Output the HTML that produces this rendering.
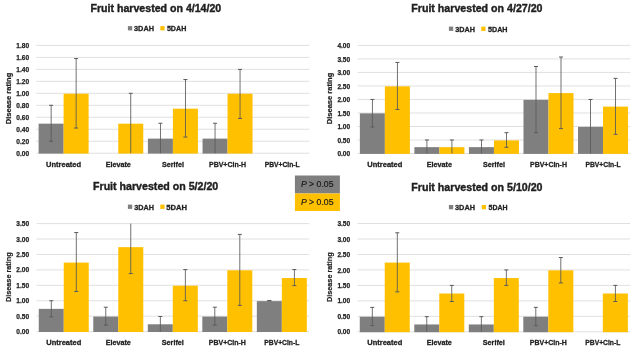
<!DOCTYPE html><html><head><meta charset="utf-8"><style>html,body{margin:0;padding:0;background:#fff;width:640px;height:355px;overflow:hidden}svg{display:block;filter:blur(0.35px)}text{font-family:"Liberation Sans",sans-serif}</style></head><body>
<svg width="640" height="355" viewBox="0 0 640 355">
<rect x="0" y="0" width="640" height="355" fill="#fff"/>
<rect x="36.30" y="152.70" width="273.20" height="1" fill="#e0e0e0"/>
<text x="29.10" y="155.80" font-size="7.2" font-weight="bold" fill="#222222" stroke="#222222" stroke-width="0.25" text-anchor="end" textLength="12.8" lengthAdjust="spacingAndGlyphs">0.00</text>
<rect x="36.30" y="140.72" width="273.20" height="1" fill="#e0e0e0"/>
<text x="29.10" y="143.82" font-size="7.2" font-weight="bold" fill="#222222" stroke="#222222" stroke-width="0.25" text-anchor="end" textLength="12.8" lengthAdjust="spacingAndGlyphs">0.20</text>
<rect x="36.30" y="128.74" width="273.20" height="1" fill="#e0e0e0"/>
<text x="29.10" y="131.84" font-size="7.2" font-weight="bold" fill="#222222" stroke="#222222" stroke-width="0.25" text-anchor="end" textLength="12.8" lengthAdjust="spacingAndGlyphs">0.40</text>
<rect x="36.30" y="116.77" width="273.20" height="1" fill="#e0e0e0"/>
<text x="29.10" y="119.87" font-size="7.2" font-weight="bold" fill="#222222" stroke="#222222" stroke-width="0.25" text-anchor="end" textLength="12.8" lengthAdjust="spacingAndGlyphs">0.60</text>
<rect x="36.30" y="104.79" width="273.20" height="1" fill="#e0e0e0"/>
<text x="29.10" y="107.89" font-size="7.2" font-weight="bold" fill="#222222" stroke="#222222" stroke-width="0.25" text-anchor="end" textLength="12.8" lengthAdjust="spacingAndGlyphs">0.80</text>
<rect x="36.30" y="92.81" width="273.20" height="1" fill="#e0e0e0"/>
<text x="29.10" y="95.91" font-size="7.2" font-weight="bold" fill="#222222" stroke="#222222" stroke-width="0.25" text-anchor="end" textLength="12.8" lengthAdjust="spacingAndGlyphs">1.00</text>
<rect x="36.30" y="80.83" width="273.20" height="1" fill="#e0e0e0"/>
<text x="29.10" y="83.93" font-size="7.2" font-weight="bold" fill="#222222" stroke="#222222" stroke-width="0.25" text-anchor="end" textLength="12.8" lengthAdjust="spacingAndGlyphs">1.20</text>
<rect x="36.30" y="68.86" width="273.20" height="1" fill="#e0e0e0"/>
<text x="29.10" y="71.96" font-size="7.2" font-weight="bold" fill="#222222" stroke="#222222" stroke-width="0.25" text-anchor="end" textLength="12.8" lengthAdjust="spacingAndGlyphs">1.40</text>
<rect x="36.30" y="56.88" width="273.20" height="1" fill="#e0e0e0"/>
<text x="29.10" y="59.98" font-size="7.2" font-weight="bold" fill="#222222" stroke="#222222" stroke-width="0.25" text-anchor="end" textLength="12.8" lengthAdjust="spacingAndGlyphs">1.60</text>
<rect x="36.30" y="44.90" width="273.20" height="1" fill="#e0e0e0"/>
<text x="29.10" y="48.00" font-size="7.2" font-weight="bold" fill="#222222" stroke="#222222" stroke-width="0.25" text-anchor="end" textLength="12.8" lengthAdjust="spacingAndGlyphs">1.80</text>
<rect x="38.62" y="123.66" width="25" height="29.94" fill="#7f7f7f"/>
<rect x="63.62" y="93.71" width="25" height="59.89" fill="#ffc000"/>
<rect x="50.70" y="105.29" width="0.85" height="35.93" fill="#5a5a5a"/>
<rect x="49.12" y="104.79" width="4" height="1" fill="#5a5a5a"/>
<rect x="49.12" y="140.72" width="4" height="1" fill="#5a5a5a"/>
<rect x="75.70" y="58.58" width="0.85" height="69.47" fill="#5a5a5a"/>
<rect x="74.12" y="58.08" width="4" height="1" fill="#5a5a5a"/>
<rect x="74.12" y="127.55" width="4" height="1" fill="#5a5a5a"/>
<text x="63.62" y="167.00" font-size="7.8" font-weight="bold" fill="#222222" stroke="#222222" stroke-width="0.3" text-anchor="middle" textLength="35.0" lengthAdjust="spacingAndGlyphs">Untreated</text>
<rect x="118.26" y="123.66" width="25" height="29.94" fill="#ffc000"/>
<rect x="130.34" y="93.31" width="0.85" height="59.89" fill="#5a5a5a"/>
<rect x="128.76" y="92.81" width="4" height="1" fill="#5a5a5a"/>
<text x="118.26" y="167.00" font-size="7.8" font-weight="bold" fill="#222222" stroke="#222222" stroke-width="0.3" text-anchor="middle" textLength="25.2" lengthAdjust="spacingAndGlyphs">Elevate</text>
<rect x="147.90" y="138.63" width="25" height="14.97" fill="#7f7f7f"/>
<rect x="172.90" y="108.68" width="25" height="44.92" fill="#ffc000"/>
<rect x="159.98" y="123.26" width="0.85" height="29.94" fill="#5a5a5a"/>
<rect x="158.40" y="122.76" width="4" height="1" fill="#5a5a5a"/>
<rect x="184.98" y="79.54" width="0.85" height="57.49" fill="#5a5a5a"/>
<rect x="183.40" y="79.04" width="4" height="1" fill="#5a5a5a"/>
<rect x="183.40" y="136.53" width="4" height="1" fill="#5a5a5a"/>
<text x="172.90" y="167.00" font-size="7.8" font-weight="bold" fill="#222222" stroke="#222222" stroke-width="0.3" text-anchor="middle" textLength="22.0" lengthAdjust="spacingAndGlyphs">Serifel</text>
<rect x="202.54" y="138.63" width="25" height="14.97" fill="#7f7f7f"/>
<rect x="227.54" y="93.71" width="25" height="59.89" fill="#ffc000"/>
<rect x="214.62" y="123.26" width="0.85" height="29.94" fill="#5a5a5a"/>
<rect x="213.04" y="122.76" width="4" height="1" fill="#5a5a5a"/>
<rect x="239.62" y="69.36" width="0.85" height="49.11" fill="#5a5a5a"/>
<rect x="238.04" y="68.86" width="4" height="1" fill="#5a5a5a"/>
<rect x="238.04" y="117.96" width="4" height="1" fill="#5a5a5a"/>
<text x="227.54" y="167.00" font-size="7.8" font-weight="bold" fill="#222222" stroke="#222222" stroke-width="0.3" text-anchor="middle" textLength="37.0" lengthAdjust="spacingAndGlyphs">PBV+Cin-H</text>
<text x="282.18" y="167.00" font-size="7.8" font-weight="bold" fill="#222222" stroke="#222222" stroke-width="0.3" text-anchor="middle" textLength="35.0" lengthAdjust="spacingAndGlyphs">PBV+Cin-L</text>
<text x="90.50" y="12.00" font-size="11.0" font-weight="bold" fill="#1f1f1f" stroke="#1f1f1f" stroke-width="0.4" textLength="130.75" lengthAdjust="spacingAndGlyphs">Fruit harvested on 4/14/20</text>
<rect x="127.90" y="26.10" width="4.3" height="4.3" fill="#7f7f7f"/>
<text x="134.00" y="31.10" font-size="7.9" font-weight="bold" fill="#222222" stroke="#222222" stroke-width="0.3" textLength="20.00" lengthAdjust="spacingAndGlyphs">3DAH</text>
<rect x="160.30" y="26.10" width="4.3" height="4.3" fill="#ffc000"/>
<text x="166.90" y="31.10" font-size="7.9" font-weight="bold" fill="#222222" stroke="#222222" stroke-width="0.3" textLength="19.40" lengthAdjust="spacingAndGlyphs">5DAH</text>
<text x="8.80" y="98.50" transform="rotate(-90 8.80 98.50)" font-size="7.6" font-weight="bold" fill="#1f1f1f" stroke="#1f1f1f" stroke-width="0.2" text-anchor="middle" dominant-baseline="central" textLength="51.5" lengthAdjust="spacingAndGlyphs">Disease rating</text>
<rect x="357.60" y="153.00" width="272.70" height="1" fill="#e0e0e0"/>
<text x="350.20" y="156.10" font-size="7.2" font-weight="bold" fill="#222222" stroke="#222222" stroke-width="0.25" text-anchor="end" textLength="12.8" lengthAdjust="spacingAndGlyphs">0.00</text>
<rect x="357.60" y="139.49" width="272.70" height="1" fill="#e0e0e0"/>
<text x="350.20" y="142.59" font-size="7.2" font-weight="bold" fill="#222222" stroke="#222222" stroke-width="0.25" text-anchor="end" textLength="12.8" lengthAdjust="spacingAndGlyphs">0.50</text>
<rect x="357.60" y="125.97" width="272.70" height="1" fill="#e0e0e0"/>
<text x="350.20" y="129.07" font-size="7.2" font-weight="bold" fill="#222222" stroke="#222222" stroke-width="0.25" text-anchor="end" textLength="12.8" lengthAdjust="spacingAndGlyphs">1.00</text>
<rect x="357.60" y="112.46" width="272.70" height="1" fill="#e0e0e0"/>
<text x="350.20" y="115.56" font-size="7.2" font-weight="bold" fill="#222222" stroke="#222222" stroke-width="0.25" text-anchor="end" textLength="12.8" lengthAdjust="spacingAndGlyphs">1.50</text>
<rect x="357.60" y="98.95" width="272.70" height="1" fill="#e0e0e0"/>
<text x="350.20" y="102.05" font-size="7.2" font-weight="bold" fill="#222222" stroke="#222222" stroke-width="0.25" text-anchor="end" textLength="12.8" lengthAdjust="spacingAndGlyphs">2.00</text>
<rect x="357.60" y="85.44" width="272.70" height="1" fill="#e0e0e0"/>
<text x="350.20" y="88.54" font-size="7.2" font-weight="bold" fill="#222222" stroke="#222222" stroke-width="0.25" text-anchor="end" textLength="12.8" lengthAdjust="spacingAndGlyphs">2.50</text>
<rect x="357.60" y="71.93" width="272.70" height="1" fill="#e0e0e0"/>
<text x="350.20" y="75.03" font-size="7.2" font-weight="bold" fill="#222222" stroke="#222222" stroke-width="0.25" text-anchor="end" textLength="12.8" lengthAdjust="spacingAndGlyphs">3.00</text>
<rect x="357.60" y="58.41" width="272.70" height="1" fill="#e0e0e0"/>
<text x="350.20" y="61.51" font-size="7.2" font-weight="bold" fill="#222222" stroke="#222222" stroke-width="0.25" text-anchor="end" textLength="12.8" lengthAdjust="spacingAndGlyphs">3.50</text>
<rect x="357.60" y="44.90" width="272.70" height="1" fill="#e0e0e0"/>
<text x="350.20" y="48.00" font-size="7.2" font-weight="bold" fill="#222222" stroke="#222222" stroke-width="0.25" text-anchor="end" textLength="12.8" lengthAdjust="spacingAndGlyphs">4.00</text>
<rect x="359.87" y="113.36" width="25" height="40.54" fill="#7f7f7f"/>
<rect x="384.87" y="86.34" width="25" height="67.56" fill="#ffc000"/>
<rect x="371.95" y="99.45" width="0.85" height="27.57" fill="#5a5a5a"/>
<rect x="370.37" y="98.95" width="4" height="1" fill="#5a5a5a"/>
<rect x="370.37" y="126.52" width="4" height="1" fill="#5a5a5a"/>
<rect x="396.95" y="62.43" width="0.85" height="47.02" fill="#5a5a5a"/>
<rect x="395.37" y="61.93" width="4" height="1" fill="#5a5a5a"/>
<rect x="395.37" y="108.95" width="4" height="1" fill="#5a5a5a"/>
<text x="384.87" y="167.00" font-size="7.8" font-weight="bold" fill="#222222" stroke="#222222" stroke-width="0.3" text-anchor="middle" textLength="35.0" lengthAdjust="spacingAndGlyphs">Untreated</text>
<rect x="414.41" y="147.14" width="25" height="6.76" fill="#7f7f7f"/>
<rect x="439.41" y="147.14" width="25" height="6.76" fill="#ffc000"/>
<rect x="426.49" y="139.99" width="0.85" height="13.51" fill="#5a5a5a"/>
<rect x="424.91" y="139.49" width="4" height="1" fill="#5a5a5a"/>
<rect x="451.49" y="139.99" width="0.85" height="13.51" fill="#5a5a5a"/>
<rect x="449.91" y="139.49" width="4" height="1" fill="#5a5a5a"/>
<text x="439.41" y="167.00" font-size="7.8" font-weight="bold" fill="#222222" stroke="#222222" stroke-width="0.3" text-anchor="middle" textLength="25.2" lengthAdjust="spacingAndGlyphs">Elevate</text>
<rect x="468.95" y="147.14" width="25" height="6.76" fill="#7f7f7f"/>
<rect x="493.95" y="140.39" width="25" height="13.51" fill="#ffc000"/>
<rect x="481.03" y="139.99" width="0.85" height="13.51" fill="#5a5a5a"/>
<rect x="479.45" y="139.49" width="4" height="1" fill="#5a5a5a"/>
<rect x="506.03" y="132.69" width="0.85" height="14.59" fill="#5a5a5a"/>
<rect x="504.45" y="132.19" width="4" height="1" fill="#5a5a5a"/>
<rect x="504.45" y="146.78" width="4" height="1" fill="#5a5a5a"/>
<text x="493.95" y="167.00" font-size="7.8" font-weight="bold" fill="#222222" stroke="#222222" stroke-width="0.3" text-anchor="middle" textLength="22.0" lengthAdjust="spacingAndGlyphs">Serifel</text>
<rect x="523.49" y="99.85" width="25" height="54.05" fill="#7f7f7f"/>
<rect x="548.49" y="93.09" width="25" height="60.81" fill="#ffc000"/>
<rect x="535.57" y="66.48" width="0.85" height="66.21" fill="#5a5a5a"/>
<rect x="533.99" y="65.98" width="4" height="1" fill="#5a5a5a"/>
<rect x="533.99" y="132.19" width="4" height="1" fill="#5a5a5a"/>
<rect x="560.57" y="57.02" width="0.85" height="71.62" fill="#5a5a5a"/>
<rect x="558.99" y="56.52" width="4" height="1" fill="#5a5a5a"/>
<rect x="558.99" y="128.14" width="4" height="1" fill="#5a5a5a"/>
<text x="548.49" y="167.00" font-size="7.8" font-weight="bold" fill="#222222" stroke="#222222" stroke-width="0.3" text-anchor="middle" textLength="37.0" lengthAdjust="spacingAndGlyphs">PBV+Cin-H</text>
<rect x="578.03" y="126.88" width="25" height="27.03" fill="#7f7f7f"/>
<rect x="603.03" y="106.61" width="25" height="47.29" fill="#ffc000"/>
<rect x="590.11" y="99.45" width="0.85" height="54.05" fill="#5a5a5a"/>
<rect x="588.53" y="98.95" width="4" height="1" fill="#5a5a5a"/>
<rect x="615.11" y="78.37" width="0.85" height="55.94" fill="#5a5a5a"/>
<rect x="613.53" y="77.87" width="4" height="1" fill="#5a5a5a"/>
<rect x="613.53" y="133.81" width="4" height="1" fill="#5a5a5a"/>
<text x="603.03" y="167.00" font-size="7.8" font-weight="bold" fill="#222222" stroke="#222222" stroke-width="0.3" text-anchor="middle" textLength="35.0" lengthAdjust="spacingAndGlyphs">PBV+Cin-L</text>
<text x="411.25" y="12.00" font-size="11.0" font-weight="bold" fill="#1f1f1f" stroke="#1f1f1f" stroke-width="0.4" textLength="131.25" lengthAdjust="spacingAndGlyphs">Fruit harvested on 4/27/20</text>
<rect x="448.90" y="26.60" width="4.3" height="4.3" fill="#7f7f7f"/>
<text x="455.30" y="31.60" font-size="7.9" font-weight="bold" fill="#222222" stroke="#222222" stroke-width="0.3" textLength="19.70" lengthAdjust="spacingAndGlyphs">3DAH</text>
<rect x="481.20" y="26.60" width="4.3" height="4.3" fill="#ffc000"/>
<text x="488.00" y="31.60" font-size="7.9" font-weight="bold" fill="#222222" stroke="#222222" stroke-width="0.3" textLength="19.50" lengthAdjust="spacingAndGlyphs">5DAH</text>
<text x="329.80" y="98.50" transform="rotate(-90 329.80 98.50)" font-size="7.6" font-weight="bold" fill="#1f1f1f" stroke="#1f1f1f" stroke-width="0.2" text-anchor="middle" dominant-baseline="central" textLength="51.5" lengthAdjust="spacingAndGlyphs">Disease rating</text>
<rect x="36.50" y="331.10" width="272.60" height="1" fill="#e0e0e0"/>
<text x="29.10" y="334.20" font-size="7.2" font-weight="bold" fill="#222222" stroke="#222222" stroke-width="0.25" text-anchor="end" textLength="12.8" lengthAdjust="spacingAndGlyphs">0.00</text>
<rect x="36.50" y="315.67" width="272.60" height="1" fill="#e0e0e0"/>
<text x="29.10" y="318.77" font-size="7.2" font-weight="bold" fill="#222222" stroke="#222222" stroke-width="0.25" text-anchor="end" textLength="12.8" lengthAdjust="spacingAndGlyphs">0.50</text>
<rect x="36.50" y="300.24" width="272.60" height="1" fill="#e0e0e0"/>
<text x="29.10" y="303.34" font-size="7.2" font-weight="bold" fill="#222222" stroke="#222222" stroke-width="0.25" text-anchor="end" textLength="12.8" lengthAdjust="spacingAndGlyphs">1.00</text>
<rect x="36.50" y="284.81" width="272.60" height="1" fill="#e0e0e0"/>
<text x="29.10" y="287.91" font-size="7.2" font-weight="bold" fill="#222222" stroke="#222222" stroke-width="0.25" text-anchor="end" textLength="12.8" lengthAdjust="spacingAndGlyphs">1.50</text>
<rect x="36.50" y="269.39" width="272.60" height="1" fill="#e0e0e0"/>
<text x="29.10" y="272.49" font-size="7.2" font-weight="bold" fill="#222222" stroke="#222222" stroke-width="0.25" text-anchor="end" textLength="12.8" lengthAdjust="spacingAndGlyphs">2.00</text>
<rect x="36.50" y="253.96" width="272.60" height="1" fill="#e0e0e0"/>
<text x="29.10" y="257.06" font-size="7.2" font-weight="bold" fill="#222222" stroke="#222222" stroke-width="0.25" text-anchor="end" textLength="12.8" lengthAdjust="spacingAndGlyphs">2.50</text>
<rect x="36.50" y="238.53" width="272.60" height="1" fill="#e0e0e0"/>
<text x="29.10" y="241.63" font-size="7.2" font-weight="bold" fill="#222222" stroke="#222222" stroke-width="0.25" text-anchor="end" textLength="12.8" lengthAdjust="spacingAndGlyphs">3.00</text>
<rect x="36.50" y="223.10" width="272.60" height="1" fill="#e0e0e0"/>
<text x="29.10" y="226.20" font-size="7.2" font-weight="bold" fill="#222222" stroke="#222222" stroke-width="0.25" text-anchor="end" textLength="12.8" lengthAdjust="spacingAndGlyphs">3.50</text>
<rect x="38.76" y="308.86" width="25" height="23.14" fill="#7f7f7f"/>
<rect x="63.76" y="262.57" width="25" height="69.43" fill="#ffc000"/>
<rect x="50.84" y="300.74" width="0.85" height="16.05" fill="#5a5a5a"/>
<rect x="49.26" y="300.24" width="4" height="1" fill="#5a5a5a"/>
<rect x="49.26" y="316.29" width="4" height="1" fill="#5a5a5a"/>
<rect x="75.84" y="232.55" width="0.85" height="58.94" fill="#5a5a5a"/>
<rect x="74.26" y="232.05" width="4" height="1" fill="#5a5a5a"/>
<rect x="74.26" y="290.99" width="4" height="1" fill="#5a5a5a"/>
<text x="63.76" y="345.20" font-size="7.8" font-weight="bold" fill="#222222" stroke="#222222" stroke-width="0.3" text-anchor="middle" textLength="35.0" lengthAdjust="spacingAndGlyphs">Untreated</text>
<rect x="93.28" y="316.57" width="25" height="15.43" fill="#7f7f7f"/>
<rect x="118.28" y="247.14" width="25" height="84.86" fill="#ffc000"/>
<rect x="105.36" y="307.22" width="0.85" height="17.90" fill="#5a5a5a"/>
<rect x="103.78" y="306.72" width="4" height="1" fill="#5a5a5a"/>
<rect x="103.78" y="324.62" width="4" height="1" fill="#5a5a5a"/>
<rect x="130.36" y="223.60" width="0.85" height="49.99" fill="#5a5a5a"/>
<rect x="128.78" y="273.09" width="4" height="1" fill="#5a5a5a"/>
<text x="118.28" y="345.20" font-size="7.8" font-weight="bold" fill="#222222" stroke="#222222" stroke-width="0.3" text-anchor="middle" textLength="25.2" lengthAdjust="spacingAndGlyphs">Elevate</text>
<rect x="147.80" y="324.29" width="25" height="7.71" fill="#7f7f7f"/>
<rect x="172.80" y="285.71" width="25" height="46.29" fill="#ffc000"/>
<rect x="159.88" y="316.48" width="0.85" height="15.12" fill="#5a5a5a"/>
<rect x="158.30" y="315.98" width="4" height="1" fill="#5a5a5a"/>
<rect x="184.88" y="269.58" width="0.85" height="31.17" fill="#5a5a5a"/>
<rect x="183.30" y="269.08" width="4" height="1" fill="#5a5a5a"/>
<rect x="183.30" y="300.24" width="4" height="1" fill="#5a5a5a"/>
<text x="172.80" y="345.20" font-size="7.8" font-weight="bold" fill="#222222" stroke="#222222" stroke-width="0.3" text-anchor="middle" textLength="22.0" lengthAdjust="spacingAndGlyphs">Serifel</text>
<rect x="202.32" y="316.57" width="25" height="15.43" fill="#7f7f7f"/>
<rect x="227.32" y="270.29" width="25" height="61.71" fill="#ffc000"/>
<rect x="214.40" y="307.22" width="0.85" height="17.90" fill="#5a5a5a"/>
<rect x="212.82" y="306.72" width="4" height="1" fill="#5a5a5a"/>
<rect x="212.82" y="324.62" width="4" height="1" fill="#5a5a5a"/>
<rect x="239.40" y="234.40" width="0.85" height="70.97" fill="#5a5a5a"/>
<rect x="237.82" y="233.90" width="4" height="1" fill="#5a5a5a"/>
<rect x="237.82" y="304.87" width="4" height="1" fill="#5a5a5a"/>
<text x="227.32" y="345.20" font-size="7.8" font-weight="bold" fill="#222222" stroke="#222222" stroke-width="0.3" text-anchor="middle" textLength="37.0" lengthAdjust="spacingAndGlyphs">PBV+Cin-H</text>
<rect x="256.84" y="301.14" width="25" height="30.86" fill="#7f7f7f"/>
<rect x="281.84" y="278.00" width="25" height="54.00" fill="#ffc000"/>
<rect x="268.92" y="300.74" width="0.85" height="0.00" fill="#5a5a5a"/>
<rect x="267.34" y="300.24" width="4" height="1" fill="#5a5a5a"/>
<rect x="267.34" y="300.24" width="4" height="1" fill="#5a5a5a"/>
<rect x="293.92" y="269.58" width="0.85" height="16.05" fill="#5a5a5a"/>
<rect x="292.34" y="269.08" width="4" height="1" fill="#5a5a5a"/>
<rect x="292.34" y="285.12" width="4" height="1" fill="#5a5a5a"/>
<text x="281.84" y="345.20" font-size="7.8" font-weight="bold" fill="#222222" stroke="#222222" stroke-width="0.3" text-anchor="middle" textLength="35.0" lengthAdjust="spacingAndGlyphs">PBV+Cin-L</text>
<text x="93.00" y="190.30" font-size="11.0" font-weight="bold" fill="#1f1f1f" stroke="#1f1f1f" stroke-width="0.4" textLength="125.25" lengthAdjust="spacingAndGlyphs">Fruit harvested on 5/2/20</text>
<rect x="127.90" y="204.60" width="4.3" height="4.3" fill="#7f7f7f"/>
<text x="134.20" y="209.60" font-size="7.9" font-weight="bold" fill="#222222" stroke="#222222" stroke-width="0.3" textLength="19.70" lengthAdjust="spacingAndGlyphs">3DAH</text>
<rect x="160.30" y="204.60" width="4.3" height="4.3" fill="#ffc000"/>
<text x="166.30" y="209.60" font-size="7.9" font-weight="bold" fill="#222222" stroke="#222222" stroke-width="0.3" textLength="20.70" lengthAdjust="spacingAndGlyphs">5DAH</text>
<text x="8.80" y="277.20" transform="rotate(-90 8.80 277.20)" font-size="7.6" font-weight="bold" fill="#1f1f1f" stroke="#1f1f1f" stroke-width="0.2" text-anchor="middle" dominant-baseline="central" textLength="49.8" lengthAdjust="spacingAndGlyphs">Disease rating</text>
<rect x="357.50" y="331.30" width="272.60" height="1" fill="#e0e0e0"/>
<text x="350.20" y="334.40" font-size="7.2" font-weight="bold" fill="#222222" stroke="#222222" stroke-width="0.25" text-anchor="end" textLength="12.8" lengthAdjust="spacingAndGlyphs">0.00</text>
<rect x="357.50" y="315.83" width="272.60" height="1" fill="#e0e0e0"/>
<text x="350.20" y="318.93" font-size="7.2" font-weight="bold" fill="#222222" stroke="#222222" stroke-width="0.25" text-anchor="end" textLength="12.8" lengthAdjust="spacingAndGlyphs">0.50</text>
<rect x="357.50" y="300.36" width="272.60" height="1" fill="#e0e0e0"/>
<text x="350.20" y="303.46" font-size="7.2" font-weight="bold" fill="#222222" stroke="#222222" stroke-width="0.25" text-anchor="end" textLength="12.8" lengthAdjust="spacingAndGlyphs">1.00</text>
<rect x="357.50" y="284.89" width="272.60" height="1" fill="#e0e0e0"/>
<text x="350.20" y="287.99" font-size="7.2" font-weight="bold" fill="#222222" stroke="#222222" stroke-width="0.25" text-anchor="end" textLength="12.8" lengthAdjust="spacingAndGlyphs">1.50</text>
<rect x="357.50" y="269.41" width="272.60" height="1" fill="#e0e0e0"/>
<text x="350.20" y="272.51" font-size="7.2" font-weight="bold" fill="#222222" stroke="#222222" stroke-width="0.25" text-anchor="end" textLength="12.8" lengthAdjust="spacingAndGlyphs">2.00</text>
<rect x="357.50" y="253.94" width="272.60" height="1" fill="#e0e0e0"/>
<text x="350.20" y="257.04" font-size="7.2" font-weight="bold" fill="#222222" stroke="#222222" stroke-width="0.25" text-anchor="end" textLength="12.8" lengthAdjust="spacingAndGlyphs">2.50</text>
<rect x="357.50" y="238.47" width="272.60" height="1" fill="#e0e0e0"/>
<text x="350.20" y="241.57" font-size="7.2" font-weight="bold" fill="#222222" stroke="#222222" stroke-width="0.25" text-anchor="end" textLength="12.8" lengthAdjust="spacingAndGlyphs">3.00</text>
<rect x="357.50" y="223.00" width="272.60" height="1" fill="#e0e0e0"/>
<text x="350.20" y="226.10" font-size="7.2" font-weight="bold" fill="#222222" stroke="#222222" stroke-width="0.25" text-anchor="end" textLength="12.8" lengthAdjust="spacingAndGlyphs">3.50</text>
<rect x="359.76" y="316.73" width="25" height="15.47" fill="#7f7f7f"/>
<rect x="384.76" y="262.58" width="25" height="69.62" fill="#ffc000"/>
<rect x="371.84" y="307.36" width="0.85" height="18.26" fill="#5a5a5a"/>
<rect x="370.26" y="306.86" width="4" height="1" fill="#5a5a5a"/>
<rect x="370.26" y="325.11" width="4" height="1" fill="#5a5a5a"/>
<rect x="396.84" y="232.78" width="0.85" height="59.10" fill="#5a5a5a"/>
<rect x="395.26" y="232.28" width="4" height="1" fill="#5a5a5a"/>
<rect x="395.26" y="291.38" width="4" height="1" fill="#5a5a5a"/>
<text x="384.76" y="345.40" font-size="7.8" font-weight="bold" fill="#222222" stroke="#222222" stroke-width="0.3" text-anchor="middle" textLength="35.0" lengthAdjust="spacingAndGlyphs">Untreated</text>
<rect x="414.28" y="324.46" width="25" height="7.74" fill="#7f7f7f"/>
<rect x="439.28" y="293.52" width="25" height="38.68" fill="#ffc000"/>
<rect x="426.36" y="316.64" width="0.85" height="15.16" fill="#5a5a5a"/>
<rect x="424.78" y="316.14" width="4" height="1" fill="#5a5a5a"/>
<rect x="451.36" y="285.39" width="0.85" height="16.09" fill="#5a5a5a"/>
<rect x="449.78" y="284.89" width="4" height="1" fill="#5a5a5a"/>
<rect x="449.78" y="300.98" width="4" height="1" fill="#5a5a5a"/>
<text x="439.28" y="345.40" font-size="7.8" font-weight="bold" fill="#222222" stroke="#222222" stroke-width="0.3" text-anchor="middle" textLength="25.2" lengthAdjust="spacingAndGlyphs">Elevate</text>
<rect x="468.80" y="324.46" width="25" height="7.74" fill="#7f7f7f"/>
<rect x="493.80" y="278.05" width="25" height="54.15" fill="#ffc000"/>
<rect x="480.88" y="316.64" width="0.85" height="15.16" fill="#5a5a5a"/>
<rect x="479.30" y="316.14" width="4" height="1" fill="#5a5a5a"/>
<rect x="505.88" y="269.91" width="0.85" height="15.47" fill="#5a5a5a"/>
<rect x="504.30" y="269.41" width="4" height="1" fill="#5a5a5a"/>
<rect x="504.30" y="284.89" width="4" height="1" fill="#5a5a5a"/>
<text x="493.80" y="345.40" font-size="7.8" font-weight="bold" fill="#222222" stroke="#222222" stroke-width="0.3" text-anchor="middle" textLength="22.0" lengthAdjust="spacingAndGlyphs">Serifel</text>
<rect x="523.32" y="316.73" width="25" height="15.47" fill="#7f7f7f"/>
<rect x="548.32" y="270.31" width="25" height="61.89" fill="#ffc000"/>
<rect x="535.40" y="307.36" width="0.85" height="18.26" fill="#5a5a5a"/>
<rect x="533.82" y="306.86" width="4" height="1" fill="#5a5a5a"/>
<rect x="533.82" y="325.11" width="4" height="1" fill="#5a5a5a"/>
<rect x="560.40" y="257.54" width="0.85" height="25.37" fill="#5a5a5a"/>
<rect x="558.82" y="257.04" width="4" height="1" fill="#5a5a5a"/>
<rect x="558.82" y="282.41" width="4" height="1" fill="#5a5a5a"/>
<text x="548.32" y="345.40" font-size="7.8" font-weight="bold" fill="#222222" stroke="#222222" stroke-width="0.3" text-anchor="middle" textLength="37.0" lengthAdjust="spacingAndGlyphs">PBV+Cin-H</text>
<rect x="602.84" y="293.52" width="25" height="38.68" fill="#ffc000"/>
<rect x="614.92" y="285.39" width="0.85" height="16.09" fill="#5a5a5a"/>
<rect x="613.34" y="284.89" width="4" height="1" fill="#5a5a5a"/>
<rect x="613.34" y="300.98" width="4" height="1" fill="#5a5a5a"/>
<text x="602.84" y="345.40" font-size="7.8" font-weight="bold" fill="#222222" stroke="#222222" stroke-width="0.3" text-anchor="middle" textLength="35.0" lengthAdjust="spacingAndGlyphs">PBV+Cin-L</text>
<text x="411.25" y="190.50" font-size="11.0" font-weight="bold" fill="#1f1f1f" stroke="#1f1f1f" stroke-width="0.4" textLength="131.25" lengthAdjust="spacingAndGlyphs">Fruit harvested on 5/10/20</text>
<rect x="448.90" y="205.00" width="4.3" height="4.3" fill="#7f7f7f"/>
<text x="455.00" y="210.00" font-size="7.9" font-weight="bold" fill="#222222" stroke="#222222" stroke-width="0.3" textLength="20.00" lengthAdjust="spacingAndGlyphs">3DAH</text>
<rect x="481.70" y="205.00" width="4.3" height="4.3" fill="#ffc000"/>
<text x="488.50" y="210.00" font-size="7.9" font-weight="bold" fill="#222222" stroke="#222222" stroke-width="0.3" textLength="19.00" lengthAdjust="spacingAndGlyphs">5DAH</text>
<text x="329.80" y="277.20" transform="rotate(-90 329.80 277.20)" font-size="7.6" font-weight="bold" fill="#1f1f1f" stroke="#1f1f1f" stroke-width="0.2" text-anchor="middle" dominant-baseline="central" textLength="49.8" lengthAdjust="spacingAndGlyphs">Disease rating</text>
<rect x="294.9" y="175.5" width="45" height="18" fill="#7f7f7f"/>
<rect x="294.9" y="193.5" width="45" height="17.5" fill="#ffc000"/>
<text x="300.9" y="187.4" font-size="9.4" fill="#1a1a1a" stroke="#1a1a1a" stroke-width="0.2" textLength="32.6" lengthAdjust="spacingAndGlyphs"><tspan font-style="italic">P</tspan> &gt; 0.05</text>
<text x="300.9" y="205.3" font-size="9.4" fill="#1a1a1a" stroke="#1a1a1a" stroke-width="0.2" textLength="32.6" lengthAdjust="spacingAndGlyphs"><tspan font-style="italic">P</tspan> &gt; 0.05</text>
</svg></body></html>
